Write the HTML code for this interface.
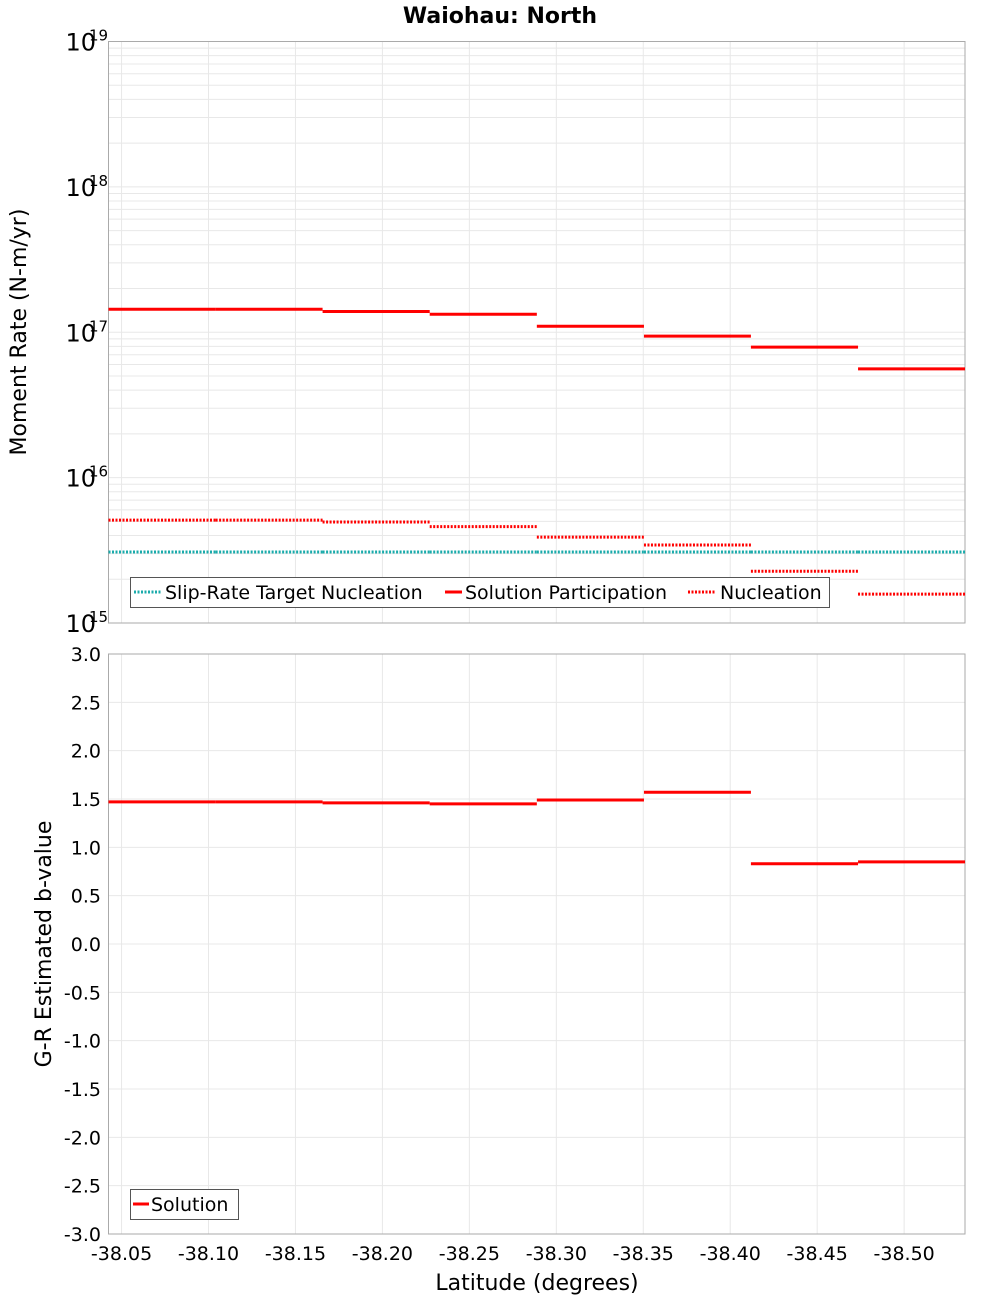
<!DOCTYPE html>
<html><head><meta charset="utf-8"><style>
body{margin:0;background:#fff;}
svg text{font-family:"DejaVu Sans","Liberation Sans",sans-serif;}
</style></head><body>
<svg id="c" width="1000" height="1300" xmlns="http://www.w3.org/2000/svg"></svg>
<script>
const xTicks=[-38.05,-38.10,-38.15,-38.20,-38.25,-38.30,-38.35,-38.40,-38.45,-38.50];
const segEdges=[-38.0425,-38.1041,-38.1656,-38.2272,-38.2888,-38.3504,-38.4119,-38.4735,-38.535];
const participation=[1.44e17,1.44e17,1.39e17,1.33e17,1.10e17,9.4e16,7.9e16,5.6e16];
const nucleation=[5.1e15,5.1e15,4.95e15,4.6e15,3.9e15,3.44e15,2.27e15,1.58e15];
const target=[3.08e15,3.08e15,3.08e15,3.08e15,3.08e15,3.08e15,3.08e15,3.08e15];
const bValues=[1.47,1.47,1.46,1.45,1.49,1.57,0.83,0.85];
const bTicks=[3.0,2.5,2.0,1.5,1.0,0.5,0.0,-0.5,-1.0,-1.5,-2.0,-2.5,-3.0];
const logDecades=[15,16,17,18,19];

const svg=document.getElementById('c');const NS='http://www.w3.org/2000/svg';
function el(t,a,p){const e=document.createElementNS(NS,t);for(const k in a)e.setAttribute(k,a[k]);(p||svg).appendChild(e);return e;}
const L=108.5,R=965;
const X=v=>L+(v-(-38.0425))/(-38.535+38.0425)*(R-L);
const T1=41.5,B1=623;const Ylog=v=>B1-(Math.log10(v)-15)/4*(B1-T1);
const T2=654,B2=1234;const Yb=v=>B2-(v+3)/6*(B2-T2);

function txt(s,x,y,size,anchor,extra){const t=el('text',Object.assign({x:x,y:y,'font-size':size,'text-anchor':anchor||'middle',fill:'#000'},extra||{}));t.textContent=s;return t;}

// title
let t=txt('Waiohau: North',500,23,22,'middle',{'font-weight':'bold'});


// top plot
let g1=el('g',{});
el('rect',{x:L,y:T1,width:R-L,height:B1-T1,fill:'#fff'},g1);
for(let d=15;d<19;d++)for(let m=1;m<10;m++){const y=Ylog(m*Math.pow(10,d));el('line',{x1:L,x2:R,y1:y,y2:y,stroke:'#e8e8e8','stroke-width':1},g1);}
xTicks.forEach(v=>{el('line',{x1:X(v),x2:X(v),y1:T1,y2:B1,stroke:'#e8e8e8'},g1);});
el('rect',{x:L,y:T1,width:R-L,height:B1-T1,fill:'none',stroke:'#aaa'},g1);
logDecades.forEach(d=>{const y=Ylog(Math.pow(10,d));const a=txt('10',96,y+9,24,'end');txt(String(d),89,y-1,15,'start');});
function steps(arr,Y,g,color,dash,name){arr.forEach((v,i)=>{const l=el('line',{x1:X(segEdges[i]),x2:X(segEdges[i+1]),y1:Y(v),y2:Y(v),stroke:color,'stroke-width':3},g);if(dash)l.setAttribute('stroke-dasharray',dash);});}
steps(target,Ylog,g1,'#1aabab','2,1.5','target-nucleation-segment');
steps(nucleation,Ylog,g1,'#ff0000','2,1.5','nucleation-segment');
steps(participation,Ylog,g1,'#ff0000',null,'participation-segment');
let yl=txt('Moment Rate (N-m/yr)',0,0,22,'middle',{transform:'translate(26,332) rotate(-90)'});

// legend top
let lg=el('g',{});
el('rect',{x:130.5,y:577.5,width:699,height:30,fill:'#fff',stroke:'#555'},lg);
el('line',{x1:134,x2:161,y1:592,y2:592,stroke:'#1aabab','stroke-width':3,'stroke-dasharray':'2,1.5'},lg);
txt('Slip-Rate Target Nucleation',165,599,19,'start');
el('line',{x1:445,x2:462,y1:592,y2:592,stroke:'#ff0000','stroke-width':3},lg);
txt('Solution Participation',465,599,19,'start');
el('line',{x1:688,x2:716,y1:592,y2:592,stroke:'#ff0000','stroke-width':3,'stroke-dasharray':'2,1.5'},lg);
txt('Nucleation',720,599,19,'start');

// bottom plot
let g2=el('g',{});
bTicks.forEach(v=>{const y=Yb(v);el('line',{x1:L,x2:R,y1:y,y2:y,stroke:'#e8e8e8'},g2);const a=txt(v.toFixed(1),101,y+7,19,'end');});
xTicks.forEach(v=>{el('line',{x1:X(v),x2:X(v),y1:T2,y2:B2,stroke:'#e8e8e8'},g2);const a=txt(v.toFixed(2),X(v),1260,19);});
el('rect',{x:L,y:T2,width:R-L,height:B2-T2,fill:'none',stroke:'#aaa'},g2);
steps(bValues,Yb,g2,'#ff0000',null,'b-value-segment');
let yl2=txt('G-R Estimated b-value',0,0,22,'middle',{transform:'translate(51,944) rotate(-90)'});

let xl=txt('Latitude (degrees)',537,1290,22);
let lg2=el('g',{});
el('rect',{x:130.5,y:1189.5,width:108,height:30,fill:'#fff',stroke:'#555'},lg2);
el('line',{x1:133,x2:149,y1:1204,y2:1204,stroke:'#ff0000','stroke-width':3},lg2);
txt('Solution',151,1211,19,'start');
</script>
</body></html>
